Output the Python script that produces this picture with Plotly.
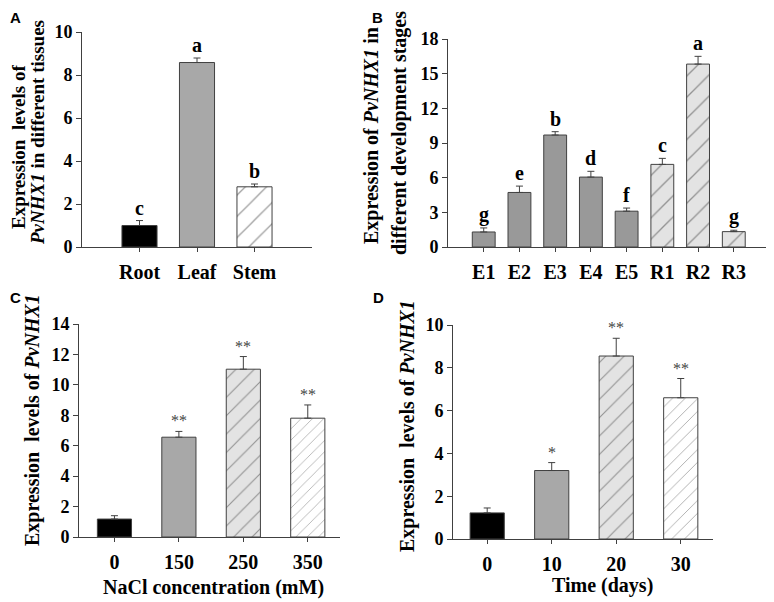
import plotly.graph_objects as go

# ---------------- data ----------------
tissues = ["Root", "Leaf", "Stem"]
tissue_vals = [1.0, 8.58, 2.8]
tissue_err = [0.23, 0.21, 0.13]
tissue_sig = ["c", "a", "b"]

stages = ["E1", "E2", "E3", "E4", "E5", "R1", "R2", "R3"]
stage_vals = [1.3, 4.72, 9.69, 6.05, 3.1, 7.15, 15.83, 1.33]
stage_err = [0.35, 0.55, 0.29, 0.5, 0.27, 0.52, 0.67, 0.12]
stage_sig = ["g", "e", "b", "d", "f", "c", "a", "g"]

nacl = ["0", "150", "250", "350"]
nacl_vals = [1.18, 6.56, 11.03, 7.81]
nacl_err = [0.22, 0.38, 0.83, 0.87]
nacl_sig = ["", "**", "**", "**"]

days = ["0", "10", "20", "30"]
days_vals = [1.22, 3.2, 8.55, 6.6]
days_err = [0.23, 0.37, 0.83, 0.9]
days_sig = ["", "*", "**", "**"]

# ---------------- styling ----------------
PAGE_W, PAGE_H = 774, 602
OFF = 8  # default page body margin
W, H = PAGE_W - OFF, PAGE_H - OFF
SERIF = "Liberation Serif, Times New Roman, serif"
LINE = "#404040"

def px(x):
    return (x - OFF) / W

def py(y):
    return 1 - (y - OFF) / H

fig = go.Figure()

def add_panel(idx, cats, vals, errs, sig, colors, shapes, psizes,
              xdom, ydom, xrange_, yrange, dtick, width, ytick_size,
              sig_size, sig_bold, sig_color, sig_shift):
    xa = "x" if idx == 1 else f"x{idx}"
    ya = "y" if idx == 1 else f"y{idx}"
    pos = list(range(len(cats)))
    fig.add_trace(go.Bar(
        x=pos, y=vals, xaxis=xa, yaxis=ya, width=width,
        marker=dict(
            color=colors,
            line=dict(color=LINE, width=1),
            pattern=dict(shape=shapes, size=psizes, solidity=0.09,
                         fillmode="overlay"),
        ),
        error_y=dict(type="data", array=errs, arrayminus=[0] * len(errs),
                     symmetric=False, color=LINE, thickness=1, width=3.5),
        showlegend=False,
    ))
    lay_x = "xaxis" if idx == 1 else f"xaxis{idx}"
    lay_y = "yaxis" if idx == 1 else f"yaxis{idx}"
    fig.layout[lay_x] = dict(
        domain=xdom, anchor=ya, range=xrange_, automargin=False,
        tickmode="array", tickvals=pos, ticktext=cats,
        showline=True, linecolor=LINE, linewidth=1, ticks="outside",
        ticklen=4, tickcolor=LINE, showgrid=False, zeroline=False,
        tickfont=dict(family=SERIF, size=20, color="black", weight="bold"),
        ticklabelstandoff=3,
    )
    fig.layout[lay_y] = dict(
        domain=ydom, anchor=xa, range=yrange, dtick=dtick, automargin=False,
        showline=True, linecolor=LINE, linewidth=1, ticks="outside",
        ticklen=5, tickcolor=LINE, showgrid=False, zeroline=False,
        tickfont=dict(family=SERIF, size=ytick_size, color="black", weight="bold"),
    )
    for p, v, e, s in zip(pos, vals, errs, sig):
        if not s:
            continue
        fig.add_annotation(
            x=p, y=v + e, xref=xa, yref=ya, text=s, showarrow=False,
            yanchor="bottom", yshift=sig_shift,
            font=dict(family=SERIF, size=sig_size, color=sig_color,
                      weight="bold" if sig_bold else "normal"),
        )

GRAY = "#a8a8a8"
GRAY_B = "#999999"
LIGHT = "#e3e3e3"

# Panel A
add_panel(1, tissues, tissue_vals, tissue_err, tissue_sig,
          ["black", GRAY, "white"], ["", "", "/"], [8, 8, 15],
          [px(82), px(312)], [py(247), py(32)], [-1, 3], [0, 10], 2, 0.61, 18,
          20, True, "black", 0)
# Panel B
add_panel(2, stages, stage_vals, stage_err, stage_sig,
          [GRAY_B] * 5 + [LIGHT] * 3, [""] * 5 + ["/"] * 3, [8] * 5 + [15] * 3,
          [px(448), px(767)], [py(247), py(39)], [-1, 7.93], [0, 18], 3, 0.64, 18,
          20, True, "black", 0)
# Panel C
add_panel(3, nacl, nacl_vals, nacl_err, nacl_sig,
          ["black", GRAY, LIGHT, "white"], ["", "", "/", "/"], [8, 8, 13, 8],
          [px(79), px(340)], [py(537), py(324)], [-0.55, 3.5], [0, 14], 2, 0.53, 18,
          16, False, "#444444", 0)
# Panel D
add_panel(4, days, days_vals, days_err, days_sig,
          ["black", GRAY, LIGHT, "white"], ["", "", "/", "/"], [8, 8, 13, 9],
          [px(453), px(713)], [py(539), py(325)], [-0.53, 3.5], [0, 10], 2, 0.53, 18,
          16, False, "#444444", 0)

# axis titles (as annotations for exact placement)
def title(text, x, y, angle=-90, size=20):
    fig.add_annotation(text=text, x=px(x), y=py(y), xref="paper", yref="paper",
                       showarrow=False, textangle=angle, xanchor="center",
                       yanchor="middle",
                       font=dict(family=SERIF, size=size, color="black",
                                 weight="bold"))

title("Expression  levels of", 18, 147, size=19)
title("<i>PvNHX1</i> in different tissues", 38, 133, size=19)
title("Expression of <i>PvNHX1</i> in", 371, 136)
title("different development stages", 400, 133)
title("Expression  levels of <i>PvNHX1</i>", 33, 420)
title("Expression  levels of <i>PvNHX1</i>", 407, 426)
title("NaCl concentration (mM)", 213, 587, angle=0)
title("Time (days)", 602, 585, angle=0)

# panel letters
for lab, x, y, anchor in [("A", 15, OFF, "top"), ("B", 377, OFF, "top"),
                          ("C", 15, 297, "middle"), ("D", 378, 297, "middle")]:
    fig.add_annotation(text=lab, x=px(x), y=py(y), xref="paper", yref="paper",
                       showarrow=False, xanchor="center", yanchor=anchor,
                       borderpad=0,
                       font=dict(family="Liberation Sans, Arial, sans-serif",
                                 size=15, color="black", weight="bold"))

fig.update_layout(
    width=W, height=H, margin=dict(l=0, r=0, t=0, b=0),
    paper_bgcolor="white", plot_bgcolor="white",
)

fig.write_html("out.html")
